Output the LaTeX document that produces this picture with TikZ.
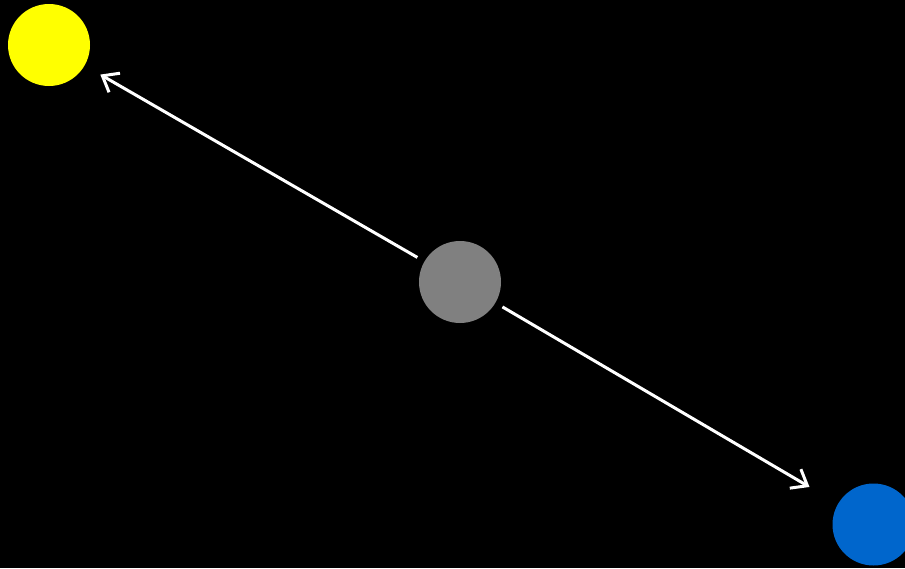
\documentclass[tikz,border=0pt]{standalone}
\usetikzlibrary{arrows.meta}
\definecolor{sunyellow}{RGB}{255,255,0}
\definecolor{midgray}{RGB}{128,128,128}
\definecolor{deepblue}{RGB}{0,102,204}

\begin{document}
\begin{tikzpicture}[x=1pt, y=-1pt,
    body/.style={circle, minimum size=82pt, inner sep=0pt, draw=none},
    ray/.style={draw=white, line width=3pt,
      -{Straight Barb[length=14pt, width=22pt, line width=3pt]}}]
  \fill[black] (0,0) rectangle (905,568);
  \useasboundingbox (0,0) rectangle (905,568);
  \clip (0,0) rectangle (905,568);
  % the three bodies
  \node[body, fill=sunyellow] (sun) at (49,45) {};
  \node[body, fill=midgray] (mid) at (460,282) {};
  \node[body, fill=deepblue] (far) at (873.5,524.5) {};
  % rays leaving the middle body
  \draw[ray, shorten <=8pt, shorten >=18pt] (mid) -- (sun);
  \draw[ray, shorten <=8pt, shorten >=33pt] (mid) -- (far);
\end{tikzpicture}
\end{document}
